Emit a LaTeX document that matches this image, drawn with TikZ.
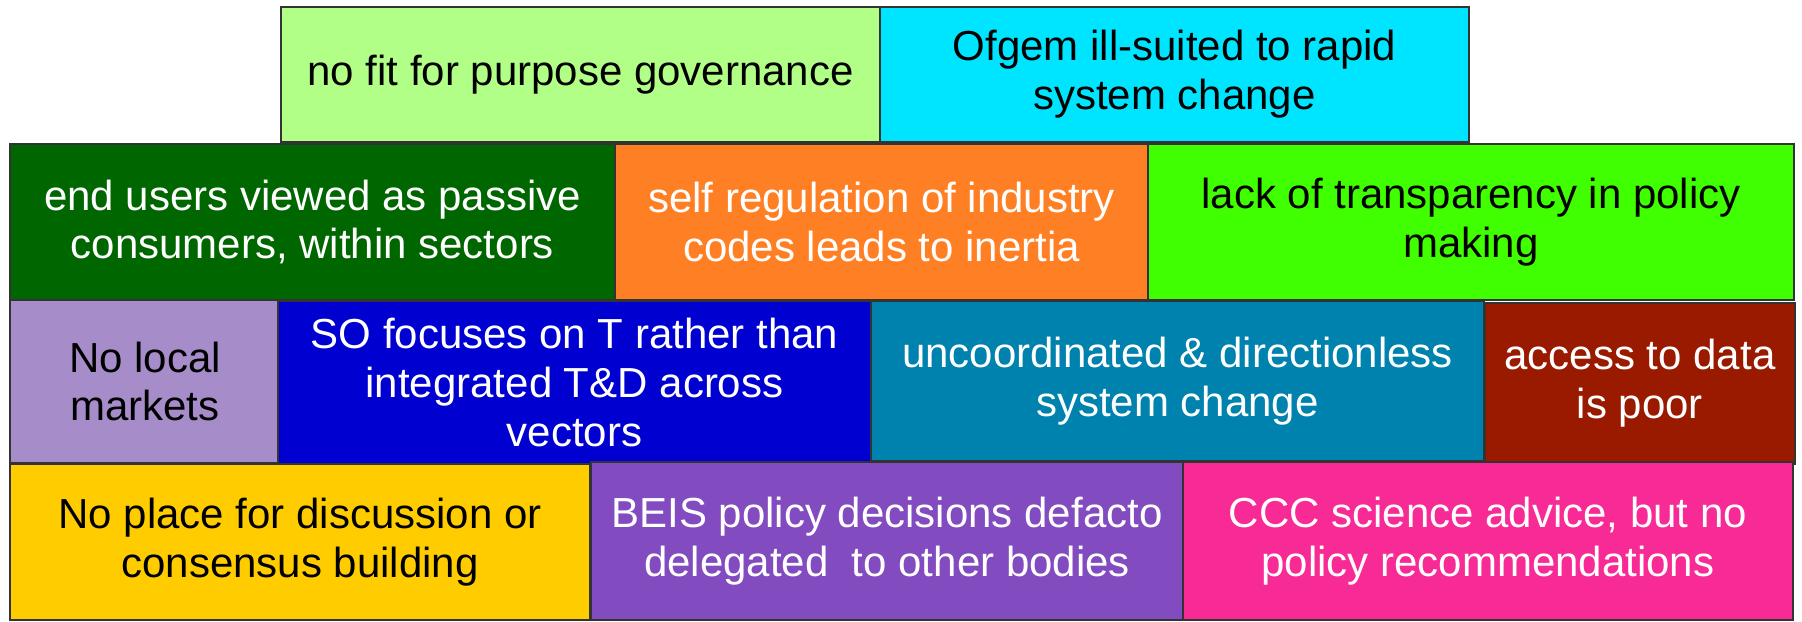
\documentclass[tikz,border=0pt]{standalone}
\usepackage{fontspec}
\setmainfont{Liberation Sans}
\usepackage{tikz}

\definecolor{lightlime}{RGB}{178,255,136}
\definecolor{ofgemcyan}{RGB}{0,229,255}
\definecolor{darkgreen}{RGB}{0,102,0}
\definecolor{brightorange}{RGB}{255,128,36}
\definecolor{brightgreen}{RGB}{64,255,0}
\definecolor{lavender}{RGB}{166,140,200}
\definecolor{deepblue}{RGB}{0,0,208}
\definecolor{tealblue}{RGB}{0,130,174}
\definecolor{rustbrown}{RGB}{154,26,0}
\definecolor{goldyellow}{RGB}{255,204,0}
\definecolor{violet}{RGB}{130,76,192}
\definecolor{hotpink}{RGB}{247,42,150}

\tikzset{
  brick/.style={draw=black!80, line width=0.8pt, inner sep=0pt, align=center,
    font=\fontsize{23.9}{27.8}\selectfont},
  darktext/.style={text=black},
  lighttext/.style={text=white}
}

\begin{document}
\begin{tikzpicture}
    \useasboundingbox (0,0) rectangle (36.04,12.44);

    % top row
    \node[brick, darktext, fill=lightlime, minimum width=11.98cm, minimum height=2.70cm] (nofit) at (11.61,10.95) {no fit for purpose governance};
    \node[brick, darktext, fill=ofgemcyan, minimum width=11.78cm, minimum height=2.70cm] (ofgem) at (23.49,10.95) {Ofgem ill-suited to rapid\\system change};

    % second row
    \node[brick, lighttext, fill=darkgreen, minimum width=12.10cm, minimum height=3.12cm] (endusers) at (6.25,8.00) {end users viewed as passive\\consumers, within sectors};
    \node[brick, lighttext, fill=brightorange, minimum width=10.66cm, minimum height=3.12cm] (selfreg) at (17.63,8.00) {self regulation of industry\\codes leads to inertia};
    \node[brick, darktext, fill=brightgreen, minimum width=12.92cm, minimum height=3.12cm] (transp) at (29.42,8.00) {lack of transparency in policy\\making};

    % third row
    \node[brick, darktext, fill=lavender, minimum width=5.40cm, minimum height=3.26cm] (nolocal) at (2.90,4.81) {No local\\markets};
    \node[brick, lighttext, fill=deepblue, minimum width=11.86cm, minimum height=3.26cm] (sofocus) at (11.49,4.79) {SO focuses on T rather than\\integrated T\&D across\\vectors};
    \node[brick, lighttext, fill=tealblue, minimum width=12.26cm, minimum height=3.20cm] (uncoord) at (23.55,4.82) {uncoordinated \& directionless\\system change};
    \node[brick, lighttext, fill=rustbrown, minimum width=6.20cm, minimum height=3.22cm] (access) at (32.80,4.77) {access to data\\is poor};

    % bottom row
    \node[brick, darktext, fill=goldyellow, minimum width=11.60cm, minimum height=3.12cm] (noplace) at (6.00,1.60) {No place for discussion or\\consensus building};
    \node[brick, lighttext, fill=violet, minimum width=11.84cm, minimum height=3.16cm] (beis) at (17.74,1.62) {BEIS policy decisions defacto\\delegated~ to other bodies};
    \node[brick, lighttext, fill=hotpink, minimum width=12.20cm, minimum height=3.16cm] (ccc) at (29.76,1.62) {CCC science advice, but no\\policy recommendations};
\end{tikzpicture}
\end{document}
